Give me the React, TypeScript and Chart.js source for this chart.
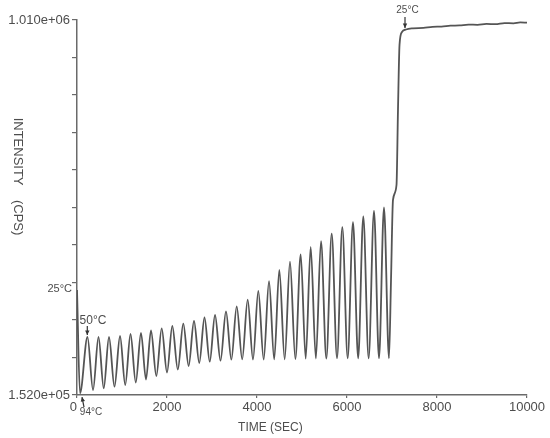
import React, { useEffect, useRef } from "react";
import { Chart, registerables } from "chart.js";

Chart.register(...registerables);

// ---- data ----
const startTimes = [0, 67];
const startValues = [392000, 156000];

const peakTimes = [233, 478, 711, 956, 1189, 1422, 1644, 1882, 2118, 2362, 2600, 2833, 3067, 3311, 3549, 3793, 4029, 4267, 4496, 4733, 4971, 5193, 5422, 5660, 5896, 6133, 6362, 6600, 6822];
const peakValues = [284700, 284700, 284700, 287000, 291600, 293900, 299600, 304600, 309900, 315100, 321300, 329300, 335000, 343500, 354900, 370000, 390000, 412400, 438000, 457000, 473500, 490600, 503900, 521100, 535900, 547400, 560900, 573500, 581000];

const troughTimes = [356, 594, 833, 1072, 1306, 1533, 1763, 2000, 2240, 2481, 2717, 2950, 3189, 3430, 3671, 3911, 4148, 4382, 4615, 4852, 5082, 5308, 5541, 5778, 6015, 6248, 6481, 6711, 6933];
const troughValues = [163400, 167300, 171000, 174900, 180600, 187500, 195500, 203500, 210300, 218400, 225200, 228200, 230500, 232800, 233700, 233200, 233200, 233700, 233700, 234400, 235100, 235500, 235500, 236000, 236000, 236000, 236000, 236000, 236000];

const coolTimes = [6978, 7022, 7100, 7133, 7167, 7222, 7311, 7467, 7700, 7900, 8100, 8300, 8500, 8700, 8900, 9100, 9300, 9500, 9700, 9850, 10000];
const coolValues = [415100, 598200, 632500, 804100, 952800, 982500, 988300, 991000, 992000, 994500, 995000, 997000, 997500, 999500, 999000, 1001000, 1000500, 1003000, 1002500, 1004500, 1004000];

const xMin = 0;
const xMax = 10000;
const xStep = 2000;
const xTickLabels = ["0  ", "2000", "4000", "6000", "8000", "10000"];

const yMin = 152000;
const yMax = 1010000;
const yStep = 85800;
const yTickLabels = ["1.520e+05", "", "", "", "", "", "", "", "", "", "1.010e+06"];

const xTitle = "TIME (SEC)";
const yTitle = "INTENSITY    (CPS)";

// annotations: label position (time, intensity) and arrow from -> to
const annotations = [
  { text: "50°C", size: 12, t: 356, v: 321300, fromT: 229, fromV: 309900, toT: 229, toV: 289300 },
  { text: "25°C", size: 10, t: 7344, v: 1032900, fromT: 7289, fromV: 1016900, toT: 7289, toV: 991700 },
  { text: "94°C", size: 10, t: 311, v: 113100, fromT: 156, fromV: 124500, toT: 111, toV: 147400 },
];
const sideLabel = { text: "25°C", size: 11, tickIndex: 3 };

const TEXT = "#4d4d4d";
const AXIS = "#6a6a6a";
const LINE = "#555555";
const FONT = '"Liberation Sans", Arial, sans-serif';

function buildPoints() {
  const pts: { x: number; y: number }[] = [];
  startTimes.forEach((t, i) => pts.push({ x: t, y: startValues[i] }));
  peakTimes.forEach((t, i) => pts.push({ x: t, y: peakValues[i] }));
  troughTimes.forEach((t, i) => pts.push({ x: t, y: troughValues[i] }));
  coolTimes.forEach((t, i) => pts.push({ x: t, y: coolValues[i] }));
  pts.sort((a, b) => a.x - b.x);
  return pts;
}

const overlayPlugin = {
  id: "overlay",
  afterDraw(chart: any) {
    const { ctx, chartArea } = chart;
    const xs = chart.scales.x;
    const ys = chart.scales.y;
    ctx.save();
    ctx.fillStyle = TEXT;
    ctx.strokeStyle = "#333";
    ctx.textAlign = "center";
    ctx.textBaseline = "middle";
    annotations.forEach((a) => {
      ctx.font = `${a.size}px ${FONT}`;
      ctx.fillText(a.text, xs.getPixelForValue(a.t), ys.getPixelForValue(a.v));
      const x1 = xs.getPixelForValue(a.fromT);
      const y1 = ys.getPixelForValue(a.fromV);
      const x2 = xs.getPixelForValue(a.toT);
      const y2 = ys.getPixelForValue(a.toV);
      ctx.lineWidth = 1.2;
      ctx.beginPath();
      ctx.moveTo(x1, y1);
      ctx.lineTo(x2, y2);
      ctx.stroke();
      const ang = Math.atan2(y2 - y1, x2 - x1);
      const hl = 4.5;
      const hw = 2.2;
      ctx.fillStyle = "#333";
      ctx.beginPath();
      ctx.moveTo(x2, y2);
      ctx.lineTo(x2 - hl * Math.cos(ang) + hw * Math.sin(ang), y2 - hl * Math.sin(ang) - hw * Math.cos(ang));
      ctx.lineTo(x2 - hl * Math.cos(ang) - hw * Math.sin(ang), y2 - hl * Math.sin(ang) + hw * Math.cos(ang));
      ctx.closePath();
      ctx.fill();
      ctx.fillStyle = TEXT;
    });
    // side label at a y tick
    const tickVal = ys.ticks[sideLabel.tickIndex]?.value;
    if (tickVal !== undefined) {
      ctx.font = `${sideLabel.size}px ${FONT}`;
      ctx.textAlign = "right";
      ctx.fillText(sideLabel.text, chartArea.left - 5, ys.getPixelForValue(tickVal) + 6);
    }
    // x title
    ctx.font = `12px ${FONT}`;
    ctx.textAlign = "left";
    ctx.fillText(xTitle, xs.getPixelForValue(3580), chartArea.bottom + 33);
    // y title rotated clockwise
    ctx.font = `13px ${FONT}`;
    ctx.textAlign = "center";
    ctx.translate(18, (chartArea.top + chartArea.bottom) / 2 - 31);
    ctx.rotate(Math.PI / 2);
    ctx.fillText(yTitle, 0, 0);
    ctx.restore();
  },
};

export default function App() {
  const ref = useRef<HTMLCanvasElement | null>(null);
  useEffect(() => {
    if (!ref.current) return;
    const chart = new Chart(ref.current, {
      type: "line",
      data: {
        datasets: [
          {
            data: buildPoints(),
            borderColor: LINE,
            borderWidth: 1.8,
            pointRadius: 0,
            fill: false,
            cubicInterpolationMode: "monotone",
          },
        ],
      },
      options: {
        responsive: false,
        animation: false,
        layout: { padding: { left: 0, top: 20, right: 23, bottom: 0 } },
        plugins: { legend: { display: false }, tooltip: { enabled: false } },
        scales: {
          x: {
            type: "linear",
            min: xMin,
            max: xMax,
            afterFit: (s: any) => {
              s.height = 43;
            },
            ticks: {
              stepSize: xStep,
              color: TEXT,
              font: { family: FONT, size: 13 },
              padding: 2,
              maxRotation: 0,
              callback: (_v: any, i: number) => xTickLabels[i] ?? "",
            },
            grid: { drawOnChartArea: false, drawTicks: true, tickLength: 3, color: AXIS, lineWidth: 1.2 },
            border: { display: true, color: AXIS, width: 1.5 },
          },
          y: {
            type: "linear",
            min: yMin,
            max: yMax,
            afterFit: (s: any) => {
              s.width = 77;
            },
            ticks: {
              stepSize: yStep,
              color: TEXT,
              font: { family: FONT, size: 13 },
              padding: 2,
              autoSkip: false,
              callback: (_v: any, i: number) => yTickLabels[i] ?? "",
            },
            grid: { drawOnChartArea: false, drawTicks: true, tickLength: 5, color: AXIS, lineWidth: 1.2 },
            border: { display: true, color: AXIS, width: 1.5 },
          },
        },
      },
      plugins: [overlayPlugin],
    } as any);
    return () => chart.destroy();
  }, []);
  return (
    <div style={{ position: "absolute", left: 0, top: 0, width: 550, height: 438, background: "#fff" }}>
      <canvas ref={ref} width={550} height={438} style={{ display: "block" }} />
    </div>
  );
}
